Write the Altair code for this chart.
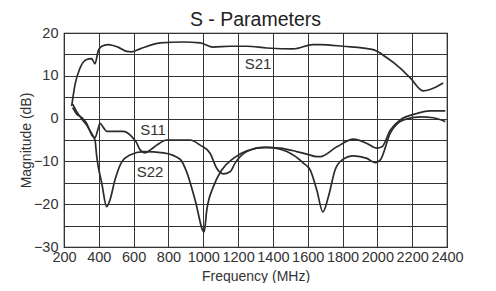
import altair as alt
import pandas as pd

# S21
s21_f = [244, 263, 292, 330, 359, 378, 396, 417, 453, 510, 560, 589, 637, 752, 884, 982,
         1056, 1154, 1250, 1365, 1516, 1631, 1671, 1803, 1976, 2055, 2131, 2189, 2263, 2303, 2378]
s21_db = [2.9, 7.9, 11.8, 13.8, 14.0, 12.8, 15.7, 16.9, 17.3, 16.7, 15.7, 15.6, 16.3, 17.7, 17.9, 17.7,
          16.7, 16.9, 16.9, 16.5, 16.3, 17.3, 17.3, 16.9, 16.1, 14.2, 11.8, 9.5, 6.5, 6.8, 8.3]

# S11
s11_f = [250, 275, 300, 330, 359, 378, 395, 407, 425, 445, 540, 589, 615, 637, 666, 700, 733, 790,
         867, 924, 982, 1039, 1077, 1115, 1154, 1183, 1250, 1345, 1441, 1537, 1595, 1652, 1671,
         1767, 1863, 1940, 1997, 2026, 2074, 2131, 2227, 2303, 2390]
s11_db = [3.4, 1.5, 0.0, -1.5, -3.5, -4.5, -2.5, -1.1, -2.0, -3.0, -3.0, -4.2, -5.5, -7.3, -8.0, -7.2, -6.2, -5.0,
          -5.0, -5.0, -6.2, -8.1, -11.6, -12.9, -12.4, -10.4, -7.7, -6.7, -6.9, -7.7, -8.3, -8.9, -8.9,
          -6.6, -4.8, -5.8, -6.9, -6.6, -2.7, -0.3, 1.2, 1.8, 1.8]

# S22
s22_f = [250, 275, 300, 330, 359, 378, 388, 417, 445, 464, 493, 532, 579, 656, 771, 867, 905, 953,
         1005, 1020, 1058, 1106, 1173, 1250, 1365, 1480, 1575, 1614, 1652, 1687, 1719, 1757, 1796,
         1863, 1940, 1987, 2016, 2074, 2150, 2246, 2322, 2390]
s22_db = [2.6, 1.0, 0.3, -1.1, -3.8, -5.0, -8.9, -15.1, -20.6, -19.0, -14.3, -10.1, -8.5, -7.7, -8.0, -9.5, -12.5, -19.0,
          -26.5, -21.4, -15.9, -12.0, -9.3, -7.5, -6.7, -7.7, -10.4, -12.0, -16.7, -21.8, -18.2, -12.0, -9.7,
          -8.7, -9.3, -10.3, -9.7, -3.4, -0.3, 0.4, 0.2, -0.7]

label_names = ["S21", "S11", "S22"]
label_f = [1315, 711, 694]
label_db = [12.8, -2.7, -12.5]

x_ticks = list(range(200, 2401, 200))
y_ticks = list(range(-30, 21, 5))

rows = []
for name, fs, ds in [("S21", s21_f, s21_db), ("S11", s11_f, s11_db), ("S22", s22_f, s22_db)]:
    for i, (f, d) in enumerate(zip(fs, ds)):
        rows.append({"series": name, "freq": f, "db": d, "order": i})
df = pd.DataFrame(rows)
labels = pd.DataFrame({"name": label_names, "freq": label_f, "db": label_db})

FONT = "Liberation Sans"
xscale = alt.Scale(domain=[200, 2400], nice=False, zero=False)
yscale = alt.Scale(domain=[-30, 20], nice=False, zero=False)
xaxis = alt.Axis(values=x_ticks, grid=True, tickSize=0, labelPadding=3, format="d",
                 labelOverlap=False, labelFlush=False, titlePadding=6)
yaxis = alt.Axis(values=y_ticks, grid=True, tickSize=0, labelPadding=6, format="d",
                 labelExpr="datum.value % 10 == 0 ? datum.label : ''", titleX=-31)

lines = alt.Chart(df).mark_line(interpolate="monotone", strokeWidth=1.7, color="#2b2b2b").encode(
    x=alt.X("freq:Q", scale=xscale, title="Frequency (MHz)", axis=xaxis),
    y=alt.Y("db:Q", scale=yscale, title="Magnitude (dB)", axis=yaxis),
    detail="series:N",
    order="order:Q",
)

text = alt.Chart(labels).mark_text(fontSize=15, font=FONT, color="#333").encode(
    x=alt.X("freq:Q", scale=xscale, title="Frequency (MHz)", axis=xaxis),
    y=alt.Y("db:Q", scale=yscale, title="Magnitude (dB)", axis=yaxis),
    text="name:N",
)

chart = (lines + text).properties(
    width=383, height=214,
    title=alt.TitleParams("S - Parameters", fontSize=19.5, font=FONT, fontWeight="normal",
                          color="#222", anchor="middle", offset=-5),
    autosize=alt.AutoSizeParams(type="none"),
    padding={"left": 56, "top": 25, "right": 41, "bottom": 36},
).configure_view(stroke="#111", strokeWidth=1.2).configure_axis(
    gridColor="#333", gridOpacity=1, gridWidth=1,
    domain=False,
    labelFont=FONT, labelFontSize=14.5, labelColor="#333",
    titleFont=FONT, titleFontSize=14, titleColor="#333", titleFontWeight="normal",
)

chart.save("out.html", embed_options={"renderer": "svg", "actions": False})
